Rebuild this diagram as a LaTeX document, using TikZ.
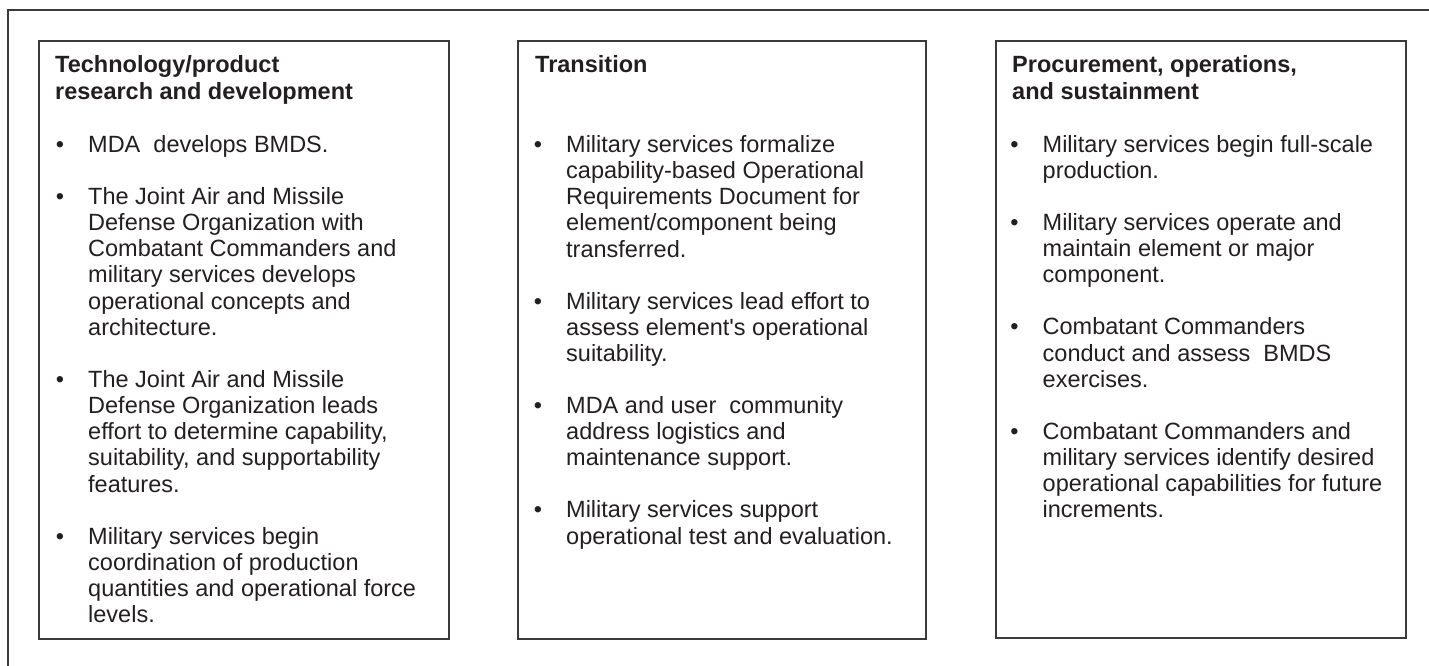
\documentclass[tikz,border=0pt]{standalone}
\usepackage{fontspec}
\setmainfont{Liberation Sans}
\usetikzlibrary{calc}
\definecolor{framegray}{HTML}{3A3A3A}
\definecolor{inkblack}{HTML}{231F20}
\newcommand{\bul}{\strut\llap{\textbullet\hspace{24pt}}}

\begin{document}
\begin{tikzpicture}[x=1pt,y=1pt,
  box/.style={draw=framegray, line width=1.6pt},
  outer/.style={draw=framegray, line width=1.4pt},
  head/.style={anchor=north west, yshift=18.9pt, align=left, inner sep=0pt, text=inkblack,
    font=\fontsize{23.5}{27}\selectfont\bfseries},
  item/.style={anchor=north west, yshift=18.34pt, align=left, inner sep=0pt, text=inkblack,
    font=\fontsize{23.5}{26.2}\selectfont}]
\path[use as bounding box, clip] (0,0) rectangle (1429,-666);
\draw[outer] (8,-10) rectangle (1460,-700);

\coordinate (O) at (39,-41);
\draw[box] (O) rectangle ++(410,-598);
\path (O) ++(16,-31) node[head] (h1) {\strut Technology/product\\research and development};
\path (O) ++(49,-111) node[item] (i11) {\bul MDA\ \ develops BMDS.};
\path (O) ++(49,-163) node[item] (i12) {\bul The Joint Air and Missile\\Defense Organization with\\Combatant Commanders and\\military services develops\\operational concepts and\\architecture.};
\path (O) ++(49,-346) node[item] (i13) {\bul The Joint Air and Missile\\Defense Organization leads\\effort to determine capability,\\suitability, and supportability\\features.};
\path (O) ++(49,-502.8) node[item] (i14) {\bul Military services begin\\coordination of production\\quantities and operational force\\levels.};

\coordinate (O) at (518,-41);
\draw[box] (O) rectangle ++(408,-598);
\path (O) ++(17,-31) node[head] (h2) {\strut Transition};
\path (O) ++(48,-111) node[item] (i21) {\bul Military services formalize\\capability-based Operational\\Requirements Document for\\element/component being\\transferred.};
\path (O) ++(48,-267.8) node[item] (i22) {\bul Military services lead effort to\\assess element\textquotesingle s operational\\suitability.};
\path (O) ++(48,-372.2) node[item] (i23) {\bul MDA and user\ \ community\\address logistics and\\maintenance support.};
\path (O) ++(48,-476.6) node[item] (i24) {\bul Military services support\\operational test and evaluation.};

\coordinate (O) at (996,-41);
\draw[box] (O) rectangle ++(410,-597);
\path (O) ++(16,-31) node[head] (h3) {\strut Procurement, operations,\\and sustainment};
\path (O) ++(46.5,-111) node[item] (i31) {\bul Military services begin full-scale\\production.};
\path (O) ++(46.5,-189.2) node[item] (i32) {\bul Military services operate and\\maintain element or major\\component.};
\path (O) ++(46.5,-293.6) node[item] (i33) {\bul Combatant Commanders\\conduct and assess\ \ BMDS\\exercises.};
\path (O) ++(46.5,-398) node[item] (i34) {\bul Combatant Commanders and\\military services identify desired\\operational capabilities for future\\increments.};
\end{tikzpicture}
\end{document}
